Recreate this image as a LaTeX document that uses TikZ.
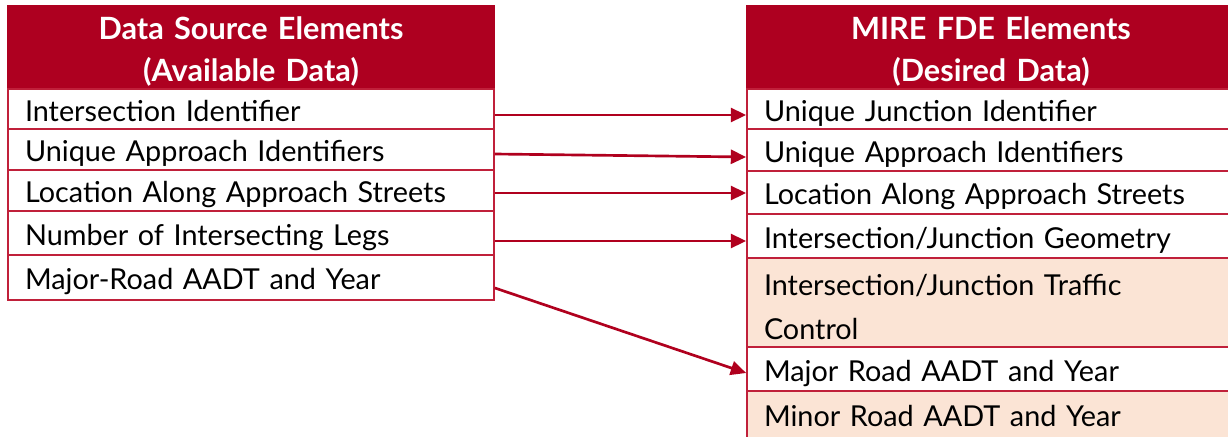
\documentclass[tikz,border=0pt]{standalone}
\usepackage{fontspec}
\setmainfont{Lato}
\usetikzlibrary{arrows.meta,calc}
\definecolor{hdr}{HTML}{AE0020}
\definecolor{bord}{HTML}{C0203A}
\definecolor{peach}{HTML}{FBE4D5}
\definecolor{arr}{HTML}{B0001E}
\begin{document}
\begin{tikzpicture}[x=0.75pt,y=-0.75pt,
  cell/.style={draw=bord, line width=1.3pt, rectangle, inner xsep=12.75pt, inner ysep=0pt,
    text width=339pt, align=left, font=\fontsize{21.6}{33}\selectfont,
    text height=22pt, text depth=4pt},
  rcell/.style={cell, text width=340.5pt},
  twoline/.style={text height=1pt, text depth=12.2pt},
  hcell/.style={cell, fill=hdr, draw=hdr, text=white, align=center,
    font=\fontsize{23}{31.5}\selectfont\bfseries, minimum height=62.25pt,
    text height=1pt, text depth=13.7pt},
  peachcell/.style={fill=peach},
  link/.style={draw=arr, line width=2pt, -{Triangle[length=11.5pt,width=10.5pt]}}]
\useasboundingbox (0,0) rectangle (1228,436);
% left table
\node[hcell] (lh) at (251,47.5) {Data Source Elements\\(Available Data)};
\node[cell, minimum height=30pt] (l1) at (251,109) {Intersection Identifier};
\node[cell, minimum height=30.75pt] (l2) at (251,149.5) {Unique Approach Identifiers};
\node[cell, minimum height=30.75pt] (l3) at (251,190.5) {Location Along Approach Streets};
\node[cell, minimum height=33pt] (l4) at (251,233) {Number of Intersecting Legs};
\node[cell, minimum height=33.75pt] (l5) at (251,277.5) {Major-Road AADT and Year};
% right table
\node[hcell, text width=340.5pt] (rh) at (991,47.5) {MIRE FDE Elements\\(Desired Data)};
\node[rcell, minimum height=30pt] (r1) at (991,109) {Unique Junction Identifier};
\node[rcell, minimum height=31.5pt] (r2) at (991,150) {Unique Approach Identifiers};
\node[rcell, minimum height=32.25pt] (r3) at (991,192.5) {Location Along Approach Streets};
\node[rcell, minimum height=33pt] (r4) at (991,236) {Intersection/Junction Geometry};
\node[rcell, peachcell, twoline, minimum height=66.75pt] (r5) at (991,302.5) {Intersection/Junction Traffic\\Control};
\node[rcell, minimum height=33pt] (r6) at (991,369) {Major Road AADT and Year};
\node[rcell, peachcell, minimum height=35.25pt] (r7) at (991,414.5) {Minor Road AADT and Year};
% connectors
\draw[link] ($(l1.east)+(0,6)$) -- ($(r1.west)+(0,6)$);
\draw[link] ($(l2.east)+(0,4.5)$) -- ($(r2.west)+(0,7)$);
\draw[link] ($(l3.east)+(0,2.5)$) -- ($(r3.west)+(0,0.5)$);
\draw[link] ($(l4.east)+(0,8)$) -- ($(r4.west)+(0,5)$);
\draw[link] ($(l5.east)+(0,10.5)$) -- ($(r6.west)+(0,4)$);
\end{tikzpicture}
\end{document}
